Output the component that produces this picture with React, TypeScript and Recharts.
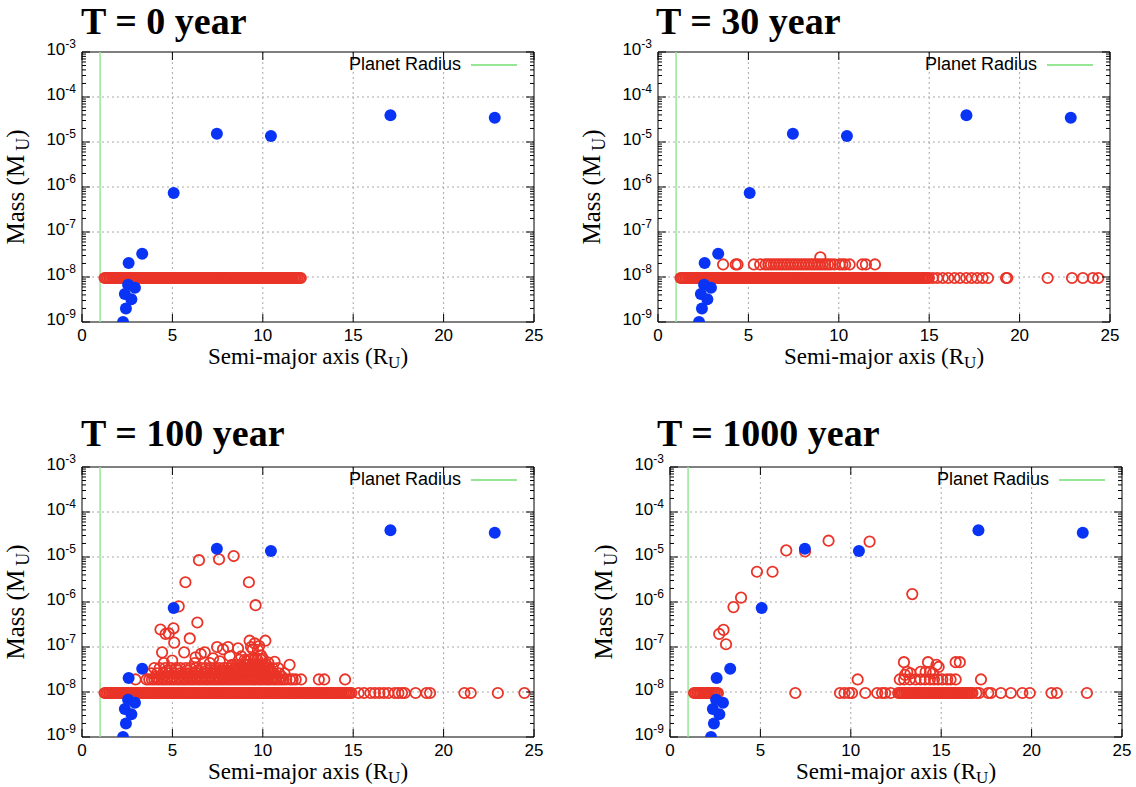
import React from "react";
import {
  ScatterChart,
  Scatter,
  XAxis,
  YAxis,
  CartesianGrid,
  ReferenceLine,
  ReferenceArea,
} from "recharts";

// axis ticks
const xTicks = [0, 5, 10, 15, 20, 25];
const yMajorTicks = [1e-9, 1e-8, 1e-7, 1e-6, 1e-5, 1e-4, 1e-3];
const yTickExps = ["-9", "-8", "-7", "-6", "-5", "-4", "-3"];
const yMinorSteps = [2, 3, 4, 5, 6, 7, 8, 9];
const planetRadius = 1;

// mass levels of the particle rows
const bandMass = 9.5e-9;
const layerMass = 1.9e-8;

// big moons (blue, same in every snapshot)
const moonA = [2.27, 2.43, 2.37, 2.73, 2.55, 2.93, 2.58, 3.33, 5.07, 7.46, 10.45, 17.06, 22.83];
const moonM = [1.0e-9, 2.0e-9, 4.2e-9, 3.2e-9, 6.7e-9, 5.8e-9, 2.05e-8, 3.3e-8, 7.4e-7, 1.52e-5, 1.36e-5, 3.95e-5, 3.45e-5];

// packed ring particles along the 1e-8 row
const denseA = [
  1.25, 1.33, 1.42, 1.51, 1.6, 1.68, 1.77, 1.86, 1.95, 2.03, 2.12, 2.21, 2.3, 2.38, 2.47, 2.56,
  2.65, 2.73, 2.82, 2.91, 3.0, 3.08, 3.17, 3.26, 3.35, 3.43, 3.52, 3.61, 3.7, 3.78, 3.87, 3.96,
  4.05, 4.13, 4.22, 4.31, 4.4, 4.48, 4.57, 4.66, 4.75, 4.83, 4.92, 5.01, 5.1, 5.18, 5.27, 5.36,
  5.45, 5.53, 5.62, 5.71, 5.8, 5.88, 5.97, 6.06, 6.15, 6.23, 6.32, 6.41, 6.5, 6.58, 6.67, 6.76,
  6.85, 6.93, 7.02, 7.11, 7.2, 7.28, 7.37, 7.46, 7.55, 7.63, 7.72, 7.81, 7.9, 7.98, 8.07, 8.16,
  8.25, 8.33, 8.42, 8.51, 8.6, 8.68, 8.77, 8.86, 8.95, 9.03, 9.12, 9.21, 9.3, 9.38, 9.47, 9.56,
  9.65, 9.73, 9.82, 9.91, 10.0, 10.08, 10.17, 10.26, 10.35, 10.43, 10.52, 10.61, 10.7, 10.78,
  10.87, 10.96, 11.05, 11.13, 11.22, 11.31, 11.4, 11.48, 11.57, 11.66, 11.75, 11.83, 11.92,
  12.01, 12.1, 12.18, 12.27, 12.36, 12.45, 12.53, 12.62, 12.71, 12.8, 12.88, 12.97, 13.06,
  13.15, 13.23, 13.32, 13.41, 13.5, 13.58, 13.67, 13.76, 13.85, 13.93, 14.02, 14.11, 14.2,
  14.28, 14.37, 14.46, 14.55, 14.63, 14.72, 14.81, 14.9, 14.98, 15.07, 15.16, 15.25, 15.33,
  15.42, 15.51, 15.6, 15.68, 15.77, 15.86, 15.95, 16.03, 16.12, 16.21, 16.3, 16.38, 16.47,
  16.56, 16.65, 16.73,
];

// T = 30
const t30BandTail = [15.2, 15.45, 15.75, 16.05, 16.4, 16.7, 17.05, 17.35, 17.65, 17.95, 18.25, 19.25, 19.32, 21.55, 22.9, 23.5, 24.05, 24.35];
const t30Layer = [3.6, 4.3, 4.4, 5.3, 5.65, 5.95, 6.1, 6.25, 6.4, 6.55, 6.7, 6.85, 7.0, 7.15, 7.3, 7.45, 7.6, 7.75, 7.9, 8.05, 8.2, 8.35, 8.5, 8.65, 8.8, 8.95, 9.1, 9.25, 9.4, 9.55, 9.75, 10.05, 10.2, 10.35, 10.6, 11.3, 11.5, 12.0];
const t30OtherA = [8.98];
const t30OtherM = [2.75e-8];

// T = 100
const t100BandTail = [15.3, 15.6, 15.95, 16.2, 16.45, 16.7, 16.95, 17.3, 17.5, 17.7, 17.85, 18.45, 19.05, 19.25, 21.15, 21.5, 23.0, 24.47];
const t100Layer = [
  2.96, 3.57, 3.72, 3.87, 4.0, 4.15, 4.28, 4.43, 4.56, 4.7, 4.85, 4.98, 5.12, 5.27, 5.4, 5.55,
  5.68, 5.82, 5.97, 6.1, 6.24, 6.39, 6.52, 6.66, 6.81, 6.94, 7.08, 7.23, 7.36, 7.5, 7.65, 7.78,
  7.92, 8.07, 8.2, 8.34, 8.49, 8.62, 8.76, 8.91, 9.04, 9.18, 9.33, 9.46, 9.6, 9.75, 9.88, 10.02,
  10.17, 10.3, 10.44, 10.59, 10.72, 10.86, 11.0, 11.15, 11.3, 11.5, 11.65, 11.82, 12.12, 13.1,
  13.4, 14.55,
];
const t100Row22 = [4.1, 4.45, 4.75, 5.05, 5.35, 5.6, 5.85, 6.1, 6.35, 6.6, 6.85, 7.05, 7.3, 7.55, 7.75, 7.95, 8.15, 8.35, 8.5, 8.65, 8.8, 8.95, 9.1, 9.25, 9.4, 9.55, 9.7, 9.85, 10.0, 10.15, 10.35, 10.55, 10.75, 11.05];
const t100Row26 = [3.85, 4.15, 4.5, 4.8, 5.1, 5.4, 5.65, 5.9, 6.15, 6.45, 6.7, 6.95, 7.2, 7.45, 7.7, 7.9, 8.1, 8.3, 8.45, 8.6, 8.75, 8.9, 9.0, 9.15, 9.3, 9.45, 9.6, 9.75, 9.9, 10.05, 10.2, 10.4, 10.6, 10.9, 11.2];
const t100Row30 = [4.7, 5.3, 5.8, 6.4, 6.9, 7.3, 7.7, 8.0, 8.35, 8.55, 8.7, 8.85, 9.0, 9.12, 9.25, 9.38, 9.52, 9.66, 9.8, 9.95, 10.1, 10.25, 10.45];
const t100Row33 = [4.0, 4.3, 4.6, 4.9, 5.2, 5.45, 5.75, 6.0, 6.3, 6.6, 6.85, 7.1, 7.35, 7.6, 7.85, 8.05, 8.25, 8.45, 8.6, 8.75, 8.9, 9.05, 9.2, 9.35, 9.5, 9.65, 9.8, 9.95, 10.1, 10.3, 10.55, 10.85];
const t100Row40 = [8.3, 8.55, 8.8, 9.0, 9.2, 9.4, 9.55, 9.7, 9.85, 10.0, 10.2];
const t100Row52 = [8.7, 9.0, 9.25, 9.5, 9.7, 9.9];
const t100OtherA = [
  4.34, 4.62, 4.8, 5.06, 5.1, 5.35, 5.72, 5.96, 6.38, 6.47, 7.58, 8.39, 9.23, 9.6, 4.43, 5.65,
  6.57, 6.79, 7.47, 7.8, 8.08, 8.63, 9.27, 9.55, 10.14, 9.45, 9.73, 8.81, 8.17, 6.28, 7.25, 10.65,
  11.48, 4.99, 4.53, 6.24, 7.07, 7.62, 9.1, 9.9, 9.35, 9.8, 10.0, 9.6, 10.3,
];
const t100OtherM = [
  2.45e-7, 1.95e-7, 2.0e-7, 2.6e-7, 1.25e-7, 8.0e-7, 2.75e-6, 1.55e-7, 3.5e-7, 8.5e-6, 8.9e-6,
  1.05e-5, 2.75e-6, 8.5e-7, 7.6e-8, 7.6e-8, 7.0e-8, 7.6e-8, 1.0e-7, 8.9e-8, 1.0e-7, 9.3e-8,
  1.38e-7, 1.2e-7, 1.38e-7, 8.9e-8, 8.6e-8, 6.2e-8, 6.3e-8, 5.9e-8, 5.6e-8, 4.7e-8, 4.0e-8,
  5.0e-8, 4.4e-8, 4.4e-8, 4.4e-8, 4.8e-8, 4.9e-8, 6.5e-8, 1.0e-7, 1.05e-7, 5.5e-8, 5.8e-8, 4.5e-8,
];

// T = 1000
const t1000BandSparse = [6.93, 9.4, 9.65, 9.9, 10.07, 10.8, 11.46, 11.73, 11.9, 12.2, 16.95, 17.1, 17.6, 17.75, 18.3, 18.85, 19.49, 19.9, 21.1, 21.4, 23.06];
const t1000Layer = [10.38, 12.71, 12.95, 13.26, 13.58, 13.86, 14.1, 14.37, 14.6, 14.82, 15.06, 15.33, 15.52, 15.8, 17.2];
const t1000OtherA = [12.94, 14.27, 14.74, 14.86, 15.8, 16.03, 13.12, 13.3, 13.86, 14.14, 14.38, 14.55, 13.0, 6.43, 7.47, 8.77, 11.04, 4.81, 5.67, 3.93, 3.51, 13.4, 2.96, 2.72, 3.1];
const t1000OtherM = [4.6e-8, 4.6e-8, 4.0e-8, 3.6e-8, 4.6e-8, 4.6e-8, 2.8e-8, 2.6e-8, 2.8e-8, 2.8e-8, 2.8e-8, 2.6e-8, 2.4e-8, 1.4e-5, 1.33e-5, 2.3e-5, 2.2e-5, 4.7e-6, 4.7e-6, 1.25e-6, 7.7e-7, 1.5e-6, 2.4e-7, 1.95e-7, 1.15e-7];

type Pt = { a: number; m: number };
const row = (as: number[], m: number): Pt[] => as.map((a) => ({ a, m }));
const pairs = (as: number[], ms: number[]): Pt[] => as.map((a, i) => ({ a, m: ms[i] }));

const moons = pairs(moonA, moonM);

const t0Red = row(denseA.filter((a) => a <= 12.15), bandMass);
const t30Red = [
  ...row(denseA.filter((a) => a <= 15.0), bandMass),
  ...row(t30BandTail, bandMass),
  ...row(t30Layer, layerMass),
  ...pairs(t30OtherA, t30OtherM),
];
const t100Red = [
  ...row(denseA.filter((a) => a <= 14.95), bandMass),
  ...row(t100BandTail, bandMass),
  ...row(t100Layer, layerMass),
  ...row(t100Row22, 2.2e-8),
  ...row(t100Row26, 2.6e-8),
  ...row(t100Row30, 3.0e-8),
  ...row(t100Row33, 3.4e-8),
  ...row(t100Row40, 4.0e-8),
  ...row(t100Row52, 5.2e-8),
  ...pairs(t100OtherA, t100OtherM),
];
const t1000Red = [
  ...row(denseA.filter((a) => (a >= 1.3 && a <= 2.66) || (a >= 12.55 && a <= 16.75)), bandMass),
  ...row(t1000BandSparse, bandMass),
  ...row(t1000Layer, layerMass),
  ...pairs(t1000OtherA, t1000OtherM),
];

const RED = "#ea3428";
const BLUE = "#0a34f5";
const GREEN = "#96e696";
const SANS = '"Liberation Sans", Arial, sans-serif';
const SERIF = '"Liberation Serif", "Times New Roman", serif';

// inner geometry of each chart (px)
const YW = 70;
const MT = 22;
const MR = 10;
const XH = 34;
const PW = 452;
const PH = 270;
const PL = YW;
const PR = YW + PW;
const PT = MT;
const PB = MT + PH;

const yTicks = [
  ...yMajorTicks,
  ...yMajorTicks.slice(0, -1).flatMap((t) => yMinorSteps.map((k) => k * t)),
];

const YTick = (props: any) => {
  const { y, payload } = props;
  const v = payload.value;
  const i = yMajorTicks.findIndex((t) => Math.abs(t - v) / t < 1e-6);
  const len = i >= 0 ? 8 : 4;
  return (
    <g>
      <line x1={PL} x2={PL + len} y1={y} y2={y} stroke="#000" strokeWidth={1} />
      <line x1={PR} x2={PR - len} y1={y} y2={y} stroke="#000" strokeWidth={1} />
      {i >= 0 && (
        <text x={PL - 6} y={y} dy={3} textAnchor="end" fontFamily={SANS} fontSize={17} fill="#000">
          10
          <tspan dy={-7} fontSize={12}>
            {yTickExps[i]}
          </tspan>
        </text>
      )}
    </g>
  );
};

const XTick = (props: any) => {
  const { x, payload } = props;
  return (
    <g>
      <line x1={x} x2={x} y1={PB} y2={PB - 8} stroke="#000" strokeWidth={1} />
      <line x1={x} x2={x} y1={PT} y2={PT + 8} stroke="#000" strokeWidth={1} />
      <text x={x} y={PB + 19} textAnchor="middle" fontFamily={SANS} fontSize={17} fill="#000">
        {payload.value}
      </text>
    </g>
  );
};

const RedRing = (p: any) => (
  <circle cx={p.cx} cy={p.cy} r={5.2} fill="none" stroke={RED} strokeWidth={1.8} />
);
const BlueDot = (p: any) => <circle cx={p.cx} cy={p.cy} r={6} fill={BLUE} />;

interface PanelProps {
  title: string;
  left: number; // plot box left, page px
  top: number; // plot box top, page px
  titleLeft: number;
  titleBase: number;
  red: Pt[];
}

const Panel = ({ title, left, top, titleLeft, titleBase, red }: PanelProps) => {
  const cx = left - YW;
  const cy = top - MT;
  return (
    <>
      {/* title */}
      <div
        style={{
          position: "absolute",
          left: titleLeft,
          top: titleBase - 28,
          fontFamily: SERIF,
          fontWeight: "bold",
          fontSize: 38,
          lineHeight: "30px",
          whiteSpace: "nowrap",
        }}
      >
        {title}
      </div>

      <div style={{ position: "absolute", left: cx, top: cy }}>
        <ScatterChart
          width={YW + PW + MR}
          height={MT + PH + XH}
          margin={{ top: MT, right: MR, bottom: 0, left: 0 }}
        >
          <CartesianGrid
            stroke="#a8a8a8"
            strokeDasharray="2 3"
            horizontalValues={yMajorTicks.slice(1, -1)}
            verticalValues={xTicks.slice(1, -1)}
          />
          <XAxis
            type="number"
            dataKey="a"
            domain={[0, 25]}
            ticks={xTicks}
            interval={0}
            height={XH}
            tick={<XTick />}
            tickLine={false}
            axisLine={false}
            allowDataOverflow
          />
          <YAxis
            type="number"
            dataKey="m"
            scale="log"
            domain={[1e-9, 1e-3]}
            ticks={yTicks}
            interval={0}
            width={YW}
            tick={<YTick />}
            tickLine={false}
            axisLine={false}
            allowDataOverflow
          />
          <ReferenceArea x1={0} x2={25} y1={1e-9} y2={1e-3} fill="none" stroke="#000" strokeWidth={1} />
          <ReferenceLine x={planetRadius} stroke={GREEN} strokeWidth={1.5} />
          <Scatter data={red} shape={RedRing} isAnimationActive={false} />
          <Scatter data={moons} shape={BlueDot} isAnimationActive={false} />
        </ScatterChart>
      </div>

      {/* legend */}
      <div
        style={{
          position: "absolute",
          left: left + 230,
          width: 149,
          top: top + 1,
          textAlign: "right",
          fontFamily: SANS,
          fontSize: 18,
          lineHeight: "22px",
          whiteSpace: "nowrap",
        }}
      >
        Planet Radius
      </div>
      <div
        style={{
          position: "absolute",
          left: left + 389,
          top: top + 12,
          width: 46,
          height: 2,
          background: GREEN,
        }}
      />

      {/* x label */}
      <div
        style={{
          position: "absolute",
          left: left,
          width: PW,
          top: top + PH + 23,
          textAlign: "center",
          fontFamily: SERIF,
          fontSize: 23,
          lineHeight: "24px",
          whiteSpace: "nowrap",
        }}
      >
        Semi-major axis (R<span style={{ fontSize: 17, verticalAlign: -4 }}>U</span>)
      </div>

      {/* y label */}
      <div
        style={{
          position: "absolute",
          left: left - 63,
          top: top + PH / 2,
          transform: "translate(-50%, -50%) rotate(-90deg)",
          fontFamily: SERIF,
          fontSize: 25,
          lineHeight: "30px",
          whiteSpace: "nowrap",
        }}
      >
        Mass (M<span style={{ fontSize: 18, verticalAlign: -5, marginLeft: 4 }}>U</span>)
      </div>
    </>
  );
};

export default function App() {
  return (
    <div
      style={{
        position: "absolute",
        left: 0,
        top: 0,
        width: 1136,
        height: 787,
        background: "#fff",
        overflow: "hidden",
      }}
    >
      <Panel title="T = 0 year" left={82} top={52} titleLeft={81} titleBase={34} red={t0Red} />
      <Panel title="T = 30 year" left={658} top={52} titleLeft={656} titleBase={34} red={t30Red} />
      <Panel title="T = 100 year" left={82} top={467} titleLeft={81} titleBase={446} red={t100Red} />
      <Panel title="T = 1000 year" left={670} top={467} titleLeft={657} titleBase={446} red={t1000Red} />
    </div>
  );
}
